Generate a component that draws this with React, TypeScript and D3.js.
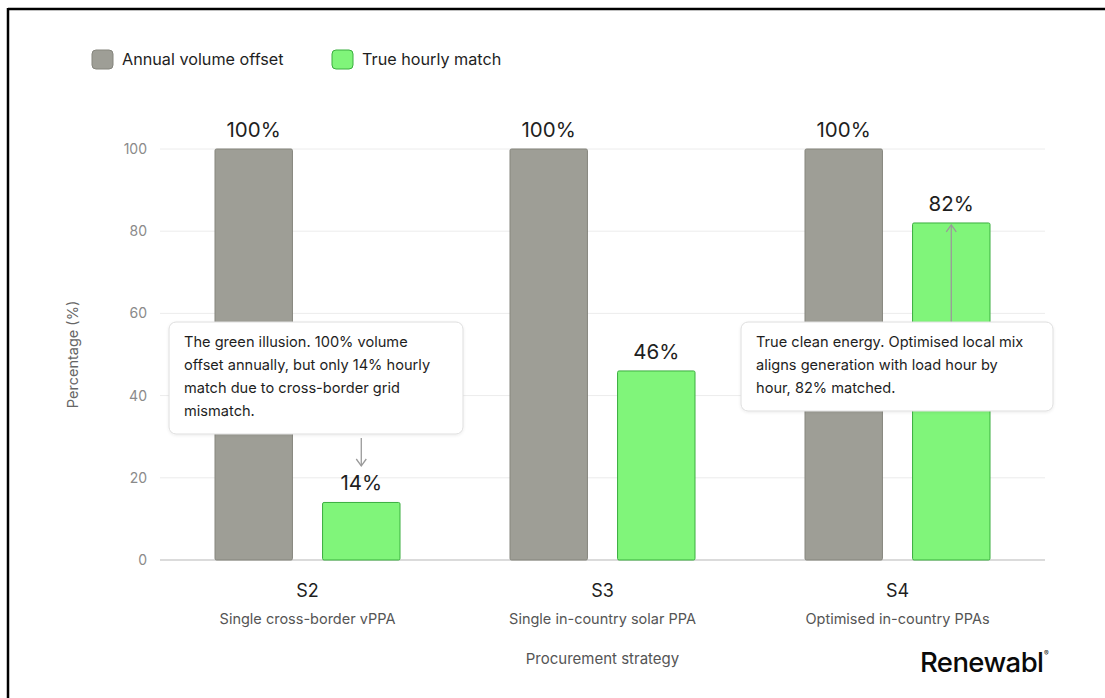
import React from "react";
import * as d3 from "d3";

const categories = ["S2", "S3", "S4"];
const categoryNames = [
  "Single cross-border vPPA",
  "Single in-country solar PPA",
  "Optimised in-country PPAs",
];
const seriesNames = ["Annual volume offset", "True hourly match"];
const annualOffset = [100, 100, 100];
const hourlyMatch = [14, 46, 82];
const yTicks = [0, 20, 40, 60, 80, 100];

const noteGreenIllusion = [
  "The green illusion. 100% volume",
  "offset annually, but only 14% hourly",
  "match due to cross-border grid",
  "mismatch.",
];
const noteCleanEnergy = [
  "True clean energy. Optimised local mix",
  "aligns generation with load hour by",
  "hour, 82% matched.",
];

const W = 1105;
const H = 698;
const FONT = "Inter, 'Noto Sans', sans-serif";
const GRAY = "#9e9e96";
const GRAY_STROKE = "#85857d";
const GREEN = "#80f57a";
const GREEN_STROKE = "#3aae3f";

export default function App() {
  const left = 160;
  const right = 1045;
  const top = 149;
  const bottom = 560;

  const x0 = d3.scaleBand<string>().domain(categories).range([left, right]).padding(0);
  const x1 = d3
    .scaleBand<string>()
    .domain(seriesNames)
    .range([55, 240])
    .paddingInner(0.28);
  const y = d3.scaleLinear().domain([0, 100]).range([bottom, top]);

  const seriesValues = [annualOffset, hourlyMatch];
  const fills = [GRAY, GREEN];
  const strokes = [GRAY_STROKE, GREEN_STROKE];

  const barX = (ci: number, si: number) => x0(categories[ci])! + x1(seriesNames[si])!;
  const bw = x1.bandwidth();

  // annotation anchors
  const a1x = barX(0, 1) + bw / 2;
  const a2x = barX(2, 1) + bw / 2;
  const a2tip = y(hourlyMatch[2]) + 2;

  return (
    <svg
      width={W}
      height={H}
      style={{ position: "absolute", left: 0, top: 0, background: "#fff" }}
      fontFamily={FONT}
    >
      <defs>
        <filter id="softShadow" x="-10%" y="-20%" width="120%" height="150%">
          <feDropShadow dx="0" dy="1" stdDeviation="1.5" floodColor="#000" floodOpacity="0.08" />
        </filter>
      </defs>

      {/* frame */}
      <line x1={8} y1={9} x2={W} y2={9} stroke="#000" strokeWidth={2.5} />
      <line x1={8} y1={8} x2={8} y2={H} stroke="#000" strokeWidth={2.5} />

      {/* legend */}
      {seriesNames.map((s, i) => {
        const lx = i === 0 ? 92 : 332;
        return (
          <g key={s}>
            <rect x={lx} y={50} width={21} height={19} rx={4} fill={fills[i]} stroke={strokes[i]} strokeWidth={1} />
            <text x={lx + 30} y={65} fontSize={16.2} fill="#1e1e1e">
              {s}
            </text>
          </g>
        );
      })}

      {/* gridlines */}
      {yTicks.map((t) => (
        <g key={t}>
          <line
            x1={left}
            x2={right}
            y1={y(t)}
            y2={y(t)}
            stroke={t === 0 ? "#cfcfcf" : "#ececec"}
            strokeWidth={t === 0 ? 1.5 : 1}
          />
          <text x={147} y={y(t) + 5} fontSize={14} fill="#8a8a8a" textAnchor="end">
            {t}
          </text>
        </g>
      ))}

      <text
        transform={`translate(78,${(top + bottom) / 2}) rotate(-90)`}
        fontSize={14.5}
        fill="#666"
        textAnchor="middle"
      >
        Percentage (%)
      </text>

      {/* bars */}
      {categories.map((c, ci) =>
        seriesValues.map((vals, si) => {
          const v = vals[ci];
          const bx = barX(ci, si);
          return (
            <g key={c + si}>
              <rect
                x={bx}
                y={y(v)}
                width={bw}
                height={y(0) - y(v)}
                rx={1.5}
                fill={fills[si]}
                stroke={strokes[si]}
                strokeWidth={1}
              />
              <text
                x={bx + bw / 2}
                y={y(v) - 12}
                fontSize={20.5}
                fill="#1e1e1e"
                textAnchor="middle"
              >
                {v}%
              </text>
            </g>
          );
        })
      )}

      {/* category labels */}
      {categories.map((c, ci) => {
        const cx = x0(c)! + x0.bandwidth() / 2;
        return (
          <g key={c}>
            <text x={cx} y={597} fontSize={18} fill="#1e1e1e" textAnchor="middle">
              {c}
            </text>
            <text x={cx} y={624} fontSize={14.5} fill="#555" textAnchor="middle">
              {categoryNames[ci]}
            </text>
          </g>
        );
      })}

      <text x={(left + right) / 2} y={664} fontSize={15} fill="#555" textAnchor="middle">
        Procurement strategy
      </text>

      {/* annotation arrows */}
      <g stroke="#9a9a9a" strokeWidth={1.3} fill="none">
        <line x1={a1x} y1={438} x2={a1x} y2={466} />
        <path d={`M${a1x - 5},${459} L${a1x},${466} L${a1x + 5},${459}`} />
        <line x1={a2x} y1={322} x2={a2x} y2={a2tip} />
        <path d={`M${a2x - 5},${a2tip + 7} L${a2x},${a2tip} L${a2x + 5},${a2tip + 7}`} />
      </g>

      {/* annotation boxes */}
      <g filter="url(#softShadow)">
        <rect x={169} y={322} width={294} height={112} rx={7} fill="#fff" stroke="#dedede" />
        <rect x={741} y={322} width={312} height={89} rx={7} fill="#fff" stroke="#dedede" />
      </g>
      {noteGreenIllusion.map((line, i) => (
        <text key={line} x={184} y={347 + i * 23} fontSize={14.6} fill="#1e1e1e">
          {line}
        </text>
      ))}
      {noteCleanEnergy.map((line, i) => (
        <text key={line} x={756} y={347 + i * 23} fontSize={14.6} fill="#1e1e1e">
          {line}
        </text>
      ))}

      {/* brand mark */}
      <text x={920} y={672} fontSize={27.5} fontWeight={500} fill="#0a0a0a" letterSpacing={-0.6}>
        Renewabl
      </text>
      <text x={1044} y={656} fontSize={7} fill="#111">
        ®
      </text>
    </svg>
  );
}
